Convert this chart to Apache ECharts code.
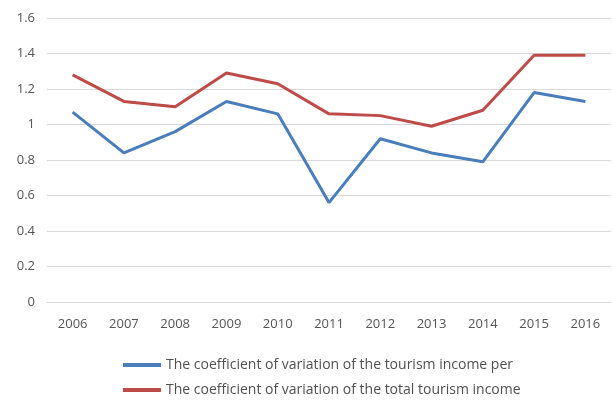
<!DOCTYPE html>
<html>
<head>
<meta charset="utf-8">
<script src="https://cdn.jsdelivr.net/npm/echarts@6/dist/echarts.min.js"></script>
<style>
  html, body { margin: 0; padding: 0; background: #fff; }
  #chart { width: 612px; height: 405px; }
</style>
</head>
<body>
<div id="chart"></div>
<script>
var years = ['2006', '2007', '2008', '2009', '2010', '2011', '2012', '2013', '2014', '2015', '2016'];
var perCapita = [1.07, 0.84, 0.96, 1.13, 1.06, 0.56, 0.92, 0.84, 0.79, 1.18, 1.13];
var total = [1.28, 1.13, 1.10, 1.29, 1.23, 1.06, 1.05, 0.99, 1.08, 1.39, 1.39];
var nameA = 'The coefficient of variation of the tourism income per';
var nameB = 'The coefficient of variation of the total tourism income';

var chart = echarts.init(document.getElementById('chart'));
var option = {
  backgroundColor: '#ffffff',
  animation: false,
  color: ['#4a7ebb', '#be4b48'],
  grid: { left: 47, right: 1, top: 18, bottom: 103 },
  legend: {
    orient: 'vertical',
    left: 123,
    top: 358,
    padding: 0,
    itemWidth: 38,
    itemHeight: 4,
    itemGap: 11,
    icon: 'rect',
    textStyle: { color: '#505050', fontSize: 14, fontFamily: 'Open Sans' },
    data: [nameA, nameB]
  },
  xAxis: {
    type: 'category',
    data: years,
    boundaryGap: true,
    axisLine: { lineStyle: { color: '#d9d9d9' } },
    axisTick: { show: false },
    axisLabel: { color: '#555555', fontSize: 13, margin: 16, fontFamily: 'Open Sans' }
  },
  yAxis: {
    type: 'value',
    min: 0,
    max: 1.6,
    interval: 0.2,
    axisLine: { show: false },
    axisTick: { show: false },
    splitLine: { lineStyle: { color: '#d9d9d9' } },
    axisLabel: { color: '#555555', fontSize: 13, margin: 12, fontFamily: 'Open Sans' }
  },
  series: [
    {
      name: nameA,
      type: 'line',
      data: perCapita,
      symbol: 'none',
      lineStyle: { width: 3 }
    },
    {
      name: nameB,
      type: 'line',
      data: total,
      symbol: 'none',
      lineStyle: { width: 3 }
    }
  ]
};
chart.setOption(option);
</script>
</body>
</html>
